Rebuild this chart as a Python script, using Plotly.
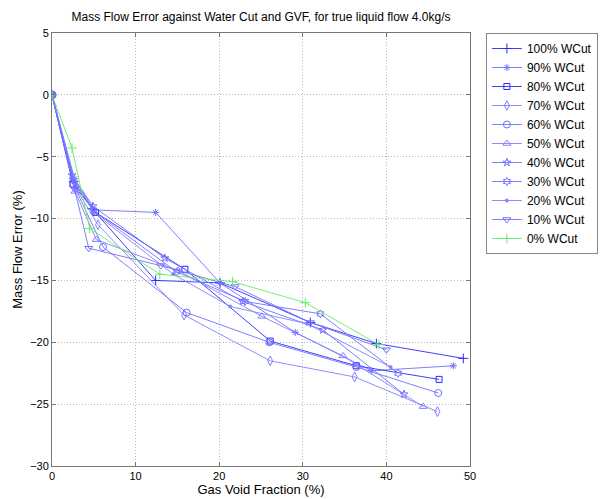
import plotly.graph_objects as go

names = ["100% WCut", "90% WCut", "80% WCut", "70% WCut", "60% WCut", "50% WCut",
         "40% WCut", "30% WCut", "20% WCut", "10% WCut", "0% WCut"]

gvf_100 = [0, 2.6, 4.8, 12.4, 20.1, 30.9, 38.8, 49.2]
err_100 = [0, -7.0, -9.2, -15.0, -15.2, -18.4, -20.1, -21.3]
gvf_90 = [0, 2.7, 5.0, 12.4, 20.1, 29.1, 38.2, 48.0]
err_90 = [0, -6.8, -9.3, -9.5, -15.2, -19.2, -22.3, -21.9]
gvf_80 = [0, 2.5, 5.2, 15.9, 26.1, 36.4, 46.3]
err_80 = [0, -7.2, -9.5, -14.1, -19.9, -21.9, -23.0]
gvf_70 = [0, 2.8, 5.5, 15.8, 26.1, 36.2, 46.1]
err_70 = [0, -7.5, -10.5, -17.8, -21.5, -22.8, -25.6]
gvf_60 = [0, 2.6, 6.1, 16.1, 26.0, 36.4, 46.2]
err_60 = [0, -7.3, -12.3, -17.6, -20.0, -22.0, -24.1]
gvf_50 = [0, 2.75, 5.3, 15.1, 25.1, 34.8, 44.4]
err_50 = [0, -7.8, -11.7, -14.2, -17.9, -21.1, -25.2]
gvf_40 = [0, 2.4, 4.9, 13.5, 22.8, 32.4, 42.1]
err_40 = [0, -6.5, -9.0, -13.2, -16.7, -19.0, -24.2]
gvf_30 = [0, 2.5, 5.0, 14.9, 23.1, 32.1, 41.4]
err_30 = [0, -6.9, -9.4, -14.3, -16.7, -17.7, -22.5]
gvf_20 = [0, 2.6, 5.0, 14.5, 21.3, 30.5, 40.5]
err_20 = [0, -6.7, -9.5, -14.5, -17.1, -18.5, -22.0]
gvf_10 = [0, 2.7, 4.4, 13.0, 21.9, 30.9, 40.0]
err_10 = [0, -7.6, -12.4, -13.8, -15.5, -18.4, -20.6]
gvf_0 = [0, 2.4, 4.5, 12.9, 21.6, 30.3, 39.1]
err_0 = [0, -4.3, -10.8, -14.5, -15.1, -16.8, -20.2]

xs = [gvf_100, gvf_90, gvf_80, gvf_70, gvf_60, gvf_50, gvf_40, gvf_30, gvf_20, gvf_10, gvf_0]
ys = [err_100, err_90, err_80, err_70, err_60, err_50, err_40, err_30, err_20, err_10, err_0]
symbols = ["cross-thin-open", "asterisk-open", "square-open", "diamond-tall-open", "circle-open",
           "triangle-up-open", "star-open", "hexagram-open", "circle", "triangle-down-open", "cross-thin-open"]
sizes = [7, 6, 6, 7, 7, 7, 6, 6, 3, 7, 7]
colors = ["#2a2aff", "#7070ff", "#2a2aff", "#8080ff", "#7070ff", "#8080ff",
          "#7070ff", "#7070ff", "#8080ff", "#7070ff", "#66ee66"]

fig = go.Figure()
for n, x, y, s, sz, c in zip(names, xs, ys, symbols, sizes, colors):
    fig.add_trace(go.Scatter(
        x=x, y=y, name=n, mode="lines+markers",
        line=dict(color=c, width=0.9),
        marker=dict(symbol=s, size=sz, color=c, line=dict(color=c, width=1)),
    ))

fig.update_layout(
    width=598, height=491,
    margin=dict(l=44, r=136, t=25, b=33, autoexpand=False),
    paper_bgcolor="white", plot_bgcolor="white",
    font=dict(family="Liberation Sans, Arial, sans-serif", size=11, color="black"),
    title=dict(text="Mass Flow Error against Water Cut and GVF, for true liquid flow 4.0kg/s",
               x=0.5, xref="paper", xanchor="center", y=0.982, yanchor="middle", yref="container",
               font=dict(size=12)),
    legend=dict(x=1.038, y=1.0, xanchor="left", yanchor="top",
                bordercolor="#888888", borderwidth=1, bgcolor="white",
                font=dict(size=12), tracegroupgap=0, itemwidth=30),
    showlegend=True,
)
fig.update_xaxes(range=[0, 50], dtick=10, showgrid=True, gridcolor="#b8b8b8", griddash="1px,2px",
                 gridwidth=1, automargin=False,
                 zeroline=False, showline=True, linecolor="#777777", mirror="ticks",
                 ticks="inside", ticklen=4, tickcolor="#777777",
                 title=dict(text="Gas Void Fraction (%)", standoff=2))
fig.update_yaxes(range=[-30, 5], dtick=5, showgrid=True, gridcolor="#b8b8b8", griddash="1px,2px",
                 gridwidth=1, automargin=False,
                 zeroline=False, showline=True, linecolor="#777777", mirror="ticks",
                 ticks="inside", ticklen=4, tickcolor="#777777",
                 title=dict(text="Mass Flow Error (%)", standoff=4))

fig.write_html("out.html")
